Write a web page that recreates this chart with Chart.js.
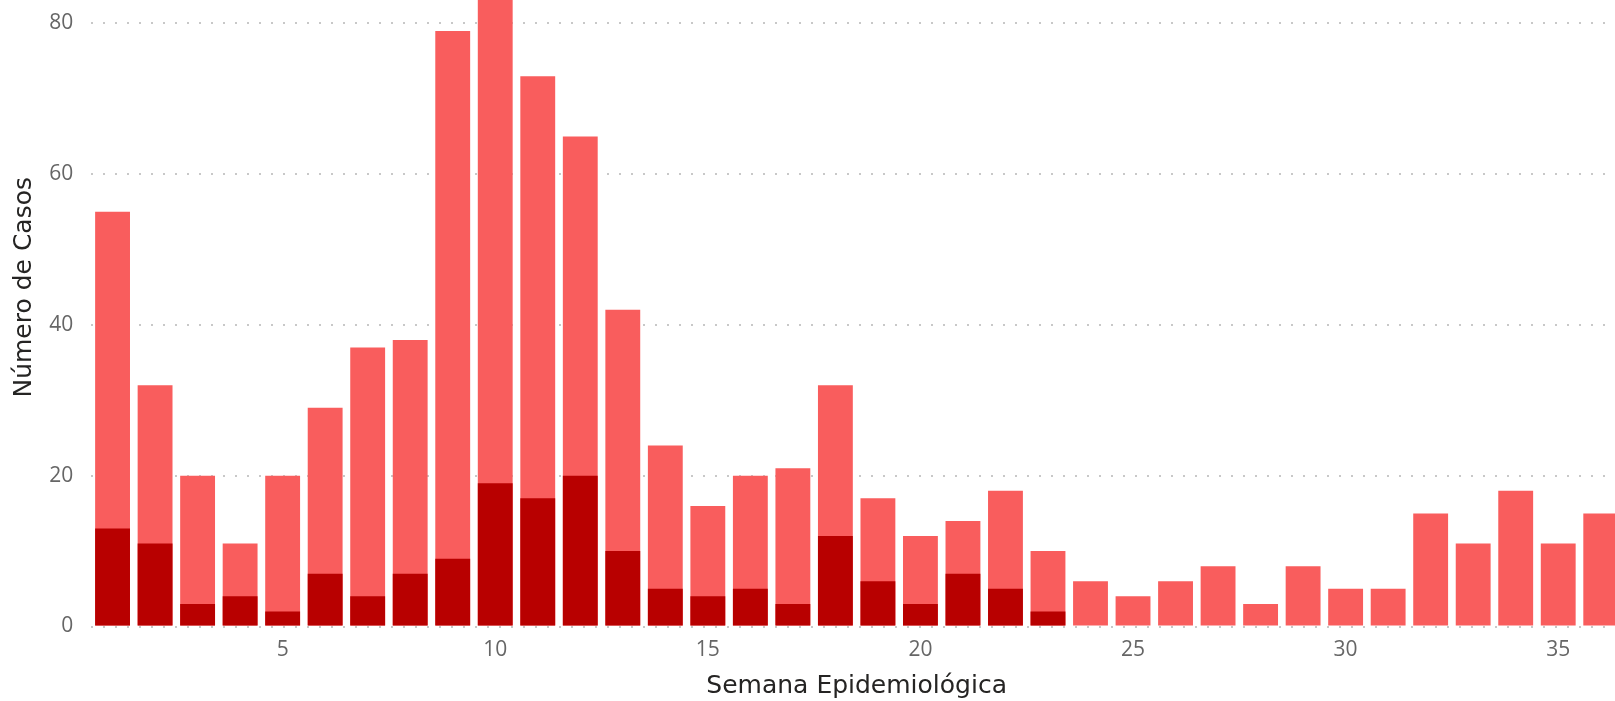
<!DOCTYPE html>
<html>
<head>
<meta charset="utf-8">
<script src="https://cdn.jsdelivr.net/npm/chart.js@4.4.1/dist/chart.umd.min.js"></script>
<style>
    html, body { margin: 0; padding: 0; background: #fff; overflow: hidden; width: 1615px; height: 701px; }
    #wrap { position: absolute; left: 0; top: -52px; width: 1622px; height: 753px; }
</style>
</head>
<body>
<div id="wrap"><canvas id="casosChart"></canvas></div>
<script>
// semanas epidemiologicas 1..36
var semanas = [];
for (var s = 1; s <= 36; s++) semanas.push(s);

// total de casos por semana (barra completa)
var casosTotales = [55, 32, 20, 11, 20, 29, 37, 38, 79, 86, 73, 65, 42, 24, 16, 20, 21, 32,
    17, 12, 14, 18, 10, 6, 4, 6, 8, 3, 8, 5, 5, 15, 11, 18, 11, 15];

// parte inferior (rojo oscuro)
var casosOscuros = [13, 11, 3, 4, 2, 7, 4, 7, 9, 19, 17, 20, 10, 5, 4, 5, 3, 12,
    6, 3, 7, 5, 2, 0, 0, 0, 0, 0, 0, 0, 0, 0, 0, 0, 0, 0];

var yTicks = [0, 20, 40, 60, 80];
var xTicks = [5, 10, 15, 20, 25, 30, 35];

function sinPadding(scale) {
    scale.paddingTop = 0;
    scale.paddingBottom = 0;
    scale.paddingLeft = 0;
    scale.paddingRight = 0;
}

document.addEventListener('DOMContentLoaded', function() {
    var cont = document.getElementById('casosChart').getContext('2d');
    var myChart = new Chart(cont, {
        type: 'bar',
        data: {
            labels: semanas,
            datasets: [{
                label: 'oscuro',
                data: casosOscuros,
                backgroundColor: '#B80000',
                grouped: false,
                barPercentage: 0.82,
                categoryPercentage: 1
            }, {
                label: 'total',
                data: casosTotales,
                backgroundColor: '#F95D5D',
                grouped: false,
                barPercentage: 0.82,
                categoryPercentage: 1
            }]
        },
        options: {
            responsive: true,
            maintainAspectRatio: false,
            animation: false,
            layout: { padding: 0 },
            scales: {
                x: {
                    grid: { display: false, drawTicks: false },
                    border: { display: false },
                    ticks: {
                        autoSkip: false,
                        maxRotation: 0,
                        padding: 11,
                        color: '#666666',
                        font: { family: 'Open Sans', size: 21 },
                        callback: function(value, index) {
                            var lbl = semanas[index];
                            return xTicks.indexOf(lbl) >= 0 ? String(lbl) : '';
                        }
                    },
                    title: {
                        display: true,
                        text: 'Semana Epidemiológica',
                        color: '#252423',
                        font: { family: 'DejaVu Sans', size: 25 },
                        padding: { top: 0, bottom: 0 }
                    },
                    afterFit: function(scale) {
                        scale.height = 74.5;
                        sinPadding(scale);
                    }
                },
                y: {
                    min: 0,
                    max: 90,
                    grid: {
                        color: '#c8c8c8',
                        lineWidth: 2,
                        drawTicks: false
                    },
                    border: { display: false, dash: [2, 10] },
                    afterBuildTicks: function(scale) {
                        scale.ticks = yTicks.map(function(v) { return { value: v }; });
                    },
                    ticks: {
                        padding: 18,
                        color: '#666666',
                        font: { family: 'Open Sans', size: 21 }
                    },
                    title: {
                        display: true,
                        text: 'Número de Casos',
                        color: '#252423',
                        font: { family: 'DejaVu Sans', size: 25 },
                        padding: { top: 9, bottom: 0 }
                    },
                    afterFit: function(scale) {
                        scale.width = 91.3;
                        sinPadding(scale);
                    }
                }
            },
            plugins: {
                legend: { display: false },
                tooltip: { enabled: false }
            }
        }
    });
});
</script>
</body>
</html>
